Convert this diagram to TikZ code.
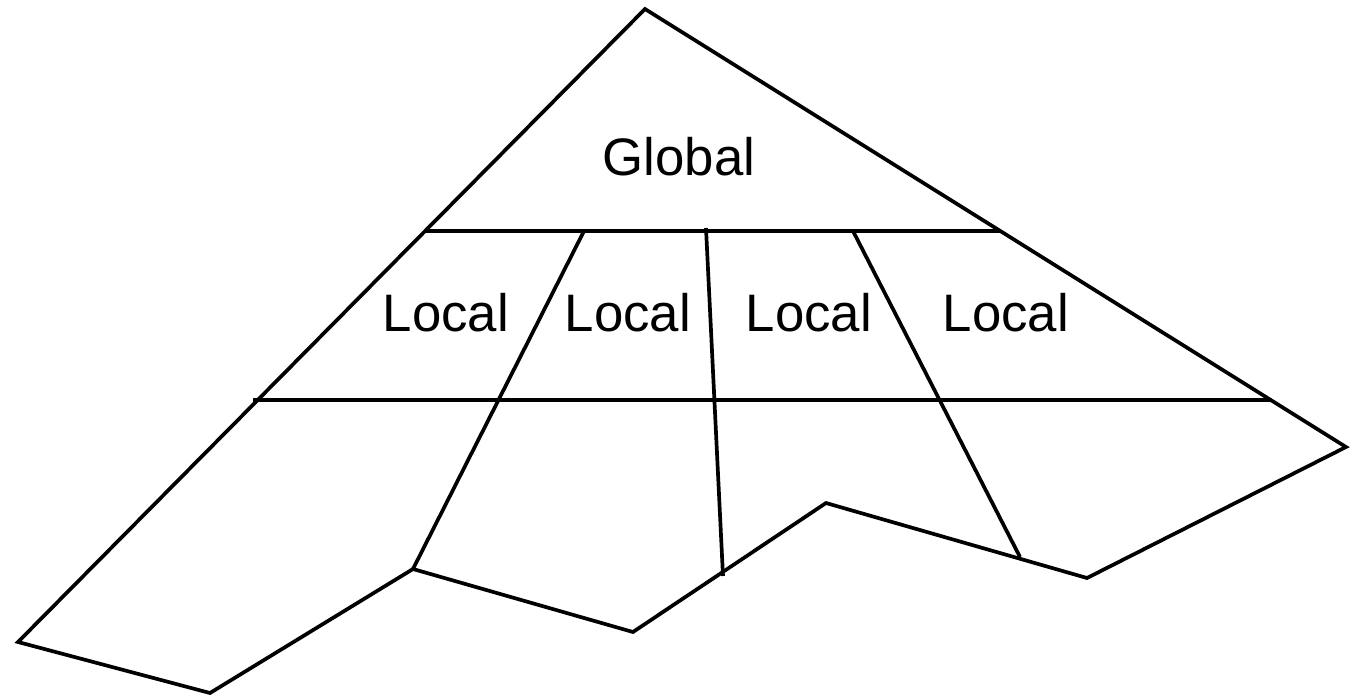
\documentclass[tikz,border=0pt]{standalone}
\usepackage{fontspec}
\setmainfont{Liberation Sans}
\usepackage{tikz}
\usetikzlibrary{calc}

\tikzset{
  edge/.style={line width=1.05pt,line join=miter},
  lbl/.style={font=\fontsize{15}{16}\selectfont,inner sep=0pt}
}

\begin{document}
\begin{tikzpicture}[x=0.01cm,y=-0.01cm]
\useasboundingbox (0,0) rectangle (1353,696);
% outline
\coordinate (top) at (645,9);
\coordinate (lft) at (18,642);
\coordinate (b1) at (210,693);
\coordinate (b2) at (413,569);
\coordinate (b3) at (633,632);
\coordinate (b4) at (826,503);
\coordinate (b5) at (1087,578);
\coordinate (rgt) at (1346,447);
\draw[edge] (top) -- (lft) -- (b1) -- (b2) -- (b3) -- (b4) -- (b5) -- (rgt) -- cycle;
% levels
\coordinate (g1) at (426,231);
\coordinate (g2) at (1001,231);
\coordinate (l1) at (253,400);
\coordinate (l2) at (1272,400);
\draw[edge] (g1) -- (g2);
\draw[edge] (l1) -- (l2);
% dividers
\coordinate (d1) at (584,231);
\coordinate (d2) at (706,228);
\coordinate (d2e) at (723,576);
\coordinate (d3) at (853,231);
\coordinate (d3e) at (1020,557);
\draw[edge] (d1) -- (b2);
\draw[edge] (d2) -- (d2e);
\draw[edge] (d3) -- (d3e);
% labels
\node[lbl] (global) at (679,157) {Global};
\node[lbl] (loc1) at (446,313) {Local};
\node[lbl] (loc2) at (628,313) {Local};
\node[lbl] (loc3) at (809,313) {Local};
\node[lbl] (loc4) at (1006,313) {Local};
\end{tikzpicture}
\end{document}
